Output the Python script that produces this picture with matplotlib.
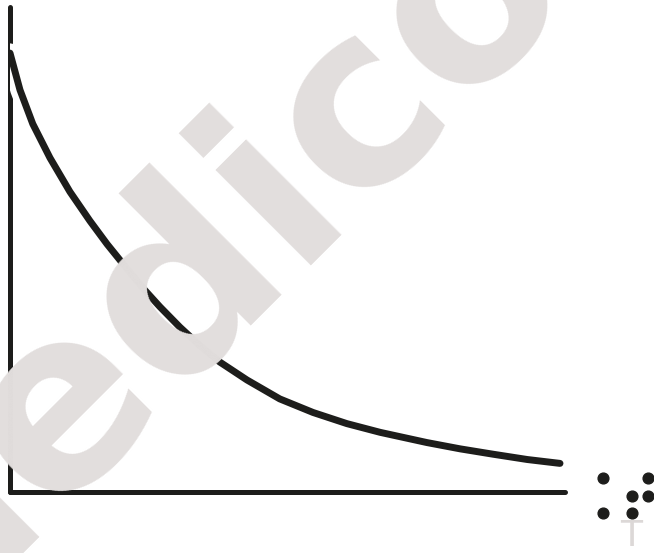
import matplotlib.pyplot as plt

# Decay curve (time vs. level, arbitrary units)
t = [0.0, 0.18, 0.41, 0.72, 1.08, 1.44, 1.75, 2.11, 2.43, 2.70, 3.06, 3.42,
     3.78, 4.27, 4.86, 5.46, 6.07, 6.67, 7.51, 8.11, 8.70, 9.32, 9.91]
level = [90.5, 82.9, 75.9, 68.9, 61.9, 55.9, 51.1, 46.0, 41.6, 38.2, 34.0, 30.2,
         26.8, 23.1, 19.2, 16.4, 14.1, 12.3, 10.2, 8.9, 7.8, 6.7, 5.9]

# "therefore" style dot mark next to the axis end
dots_x = [10.68, 11.50, 11.21, 11.50, 10.68, 11.21]
dots_y = [2.9, 2.9, -0.8, -0.8, -4.3, -4.3]

ink = '#1d1d1b'
wm = '#e2dedd'

fig = plt.figure(figsize=(6.54, 5.53), dpi=100)

# watermark behind everything
fig.text(0.336, 0.392, 'medico', rotation=45, rotation_mode='anchor',
         ha='center', va='baseline', fontsize=178, fontweight='bold',
         family='DejaVu Sans', color=wm, zorder=0)
fig.text(0.965, 0.0, 'T', ha='center', va='bottom', fontsize=26,
         family='DejaVu Sans', color='#dcd8d7')

ax = fig.add_axes([0.0153, 0.1103, 0.8486, 0.877])
ax.patch.set_alpha(0)

# white gap where the curve starts next to the y axis
ax.plot(t[:4], level[:4], color='white', lw=14, solid_capstyle='round', zorder=2.6)
ax.plot(t, level, color=ink, lw=5, solid_capstyle='round',
        solid_joinstyle='round', zorder=3)

ax.scatter(dots_x, dots_y, s=60, color=ink, clip_on=False, zorder=3)

ax.set_xlim(0, 10)
ax.set_ylim(0, 100)
for side in ['top', 'right']:
    ax.spines[side].set_visible(False)
for side in ['left', 'bottom']:
    ax.spines[side].set_linewidth(3.6)
    ax.spines[side].set_color(ink)
    ax.spines[side].set_capstyle('round')
ax.set_xticks([])
ax.set_yticks([])

plt.savefig('out.png', dpi=100)
